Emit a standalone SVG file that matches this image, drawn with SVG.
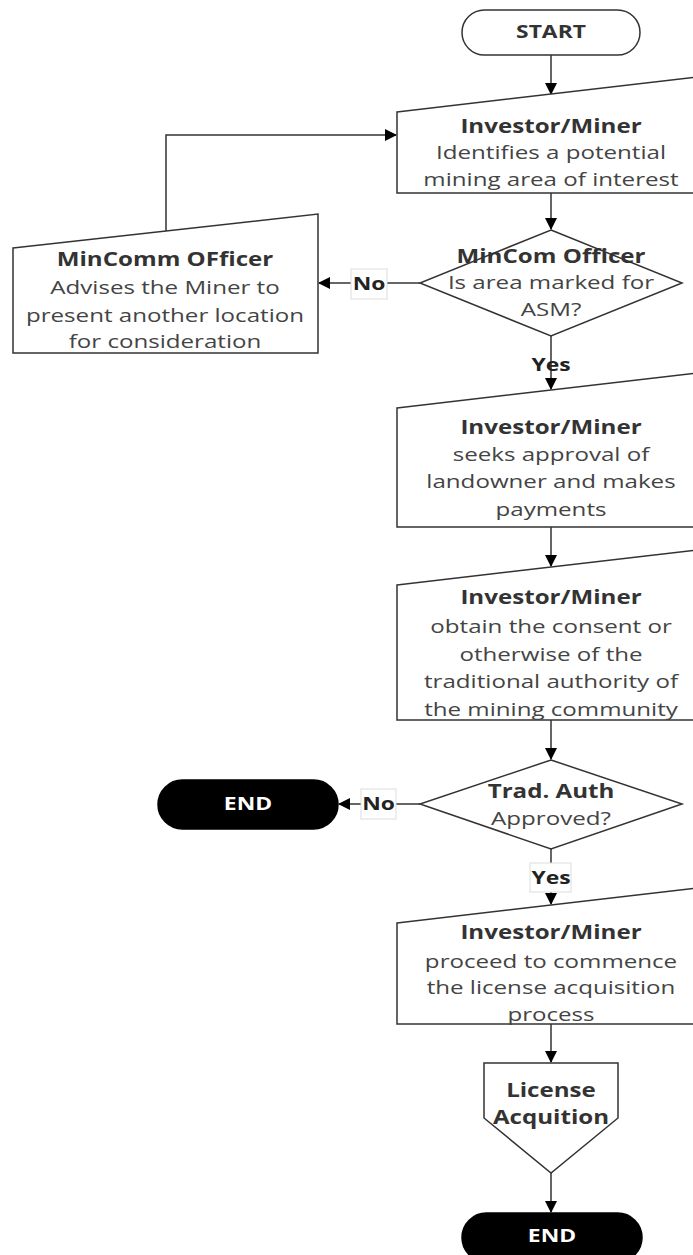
<svg xmlns="http://www.w3.org/2000/svg" width="693" height="1255" viewBox="0 0 693 1255">
<style>
.s{fill:#fff;stroke:#333;stroke-width:1.5}
.t{fill:#000;stroke:#000;stroke-width:1.5}
text{font-family:"Open Sans","DejaVu Sans",sans-serif;font-size:19px;fill:#444;text-anchor:middle}
.b{font-weight:bold;fill:#333}
.w{font-weight:bold;fill:#fff;font-size:18px}
.l{font-weight:bold;fill:#222;font-size:18px}
.c{fill:none;stroke:#333;stroke-width:1.5}
.lb{fill:#fff;stroke:#ddd;stroke-width:1}
</style>
<defs>
<marker id="a" markerUnits="userSpaceOnUse" markerWidth="12" markerHeight="12" viewBox="0 0 12 12" refX="11" refY="6" orient="auto">
<path d="M0,0 L12,6 L0,12 Z" fill="#000"/>
</marker>
</defs>
<g id="connectors">
<path class="c" d="M551,55 V94" marker-end="url(#a)"/>
<path class="c" d="M551,193 V229" marker-end="url(#a)"/>
<path class="c" d="M420,283 H319" marker-end="url(#a)"/>
<path class="c" d="M166,231 V135 H396" marker-end="url(#a)"/>
<path class="c" d="M551,336 V389" marker-end="url(#a)"/>
<path class="c" d="M551,527 V566" marker-end="url(#a)"/>
<path class="c" d="M551,720 V759" marker-end="url(#a)"/>
<path class="c" d="M420,804 H339" marker-end="url(#a)"/>
<path class="c" d="M551,849 V904" marker-end="url(#a)"/>
<path class="c" d="M551,1024 V1062" marker-end="url(#a)"/>
<path class="c" d="M551,1173 V1212" marker-end="url(#a)"/>
<rect class="lb" x="351" y="269" width="36" height="30"/>
<g transform="translate(369,0) scale(1.27,1)"><text class="l" x="0" y="290">No</text></g>
<g transform="translate(551,0) scale(1.27,1)"><text class="l" x="0" y="371">Yes</text></g>
<rect class="lb" x="361" y="789" width="35" height="30"/>
<g transform="translate(378.5,0) scale(1.27,1)"><text class="l" x="0" y="810">No</text></g>
<rect class="lb" x="530" y="863" width="41" height="29"/>
<g transform="translate(551,0) scale(1.27,1)"><text class="l" x="0" y="884">Yes</text></g>
</g>
<g id="start">
<rect class="s" x="462" y="10" width="178" height="45" rx="22.5"/>
<g transform="translate(551,0) scale(1.27,1)"><text class="b" x="0" y="38.5" style="font-size:18px">START</text></g>
</g>
<g id="identify">
<polygon class="s" points="397,112 705,76 705,193 397,193"/>
<g transform="translate(551,0) scale(1.27,1)">
<text class="b" x="0" y="133">Investor/Miner</text>
<text x="0" y="159">Identifies a potential</text>
<text x="0" y="186">mining area of interest</text>
</g>
</g>
<g id="decision1">
<polygon class="s" points="551,230 682,283 551,336 420,283"/>
<g transform="translate(551,0) scale(1.27,1)">
<text class="b" x="0" y="263">MinCom Officer</text>
<text x="0" y="289">Is area marked for</text>
<text x="0" y="316">ASM?</text>
</g>
</g>
<g id="advise">
<polygon class="s" points="13,248 318,214 318,353 13,353"/>
<g transform="translate(165,0) scale(1.27,1)">
<text class="b" x="0" y="266">MinComm OFficer</text>
<text x="0" y="294">Advises the Miner to</text>
<text x="0" y="322">present another location</text>
<text x="0" y="348">for consideration</text>
</g>
</g>
<g id="landowner">
<polygon class="s" points="397,408 705,372 705,527 397,527"/>
<g transform="translate(551,0) scale(1.27,1)">
<text class="b" x="0" y="434">Investor/Miner</text>
<text x="0" y="461">seeks approval of</text>
<text x="0" y="488">landowner and makes</text>
<text x="0" y="516">payments</text>
</g>
</g>
<g id="consent">
<polygon class="s" points="397,585 705,549 705,720 397,720"/>
<g transform="translate(551,0) scale(1.27,1)">
<text class="b" x="0" y="604">Investor/Miner</text>
<text x="0" y="633">obtain the consent or</text>
<text x="0" y="661">otherwise of the</text>
<text x="0" y="688">traditional authority of</text>
<text x="0" y="716">the mining community</text>
</g>
</g>
<g id="decision2">
<polygon class="s" points="551,760 682,804 551,849 420,804"/>
<g transform="translate(551,0) scale(1.27,1)">
<text class="b" x="0" y="798">Trad. Auth</text>
<text x="0" y="825">Approved?</text>
</g>
</g>
<g id="end1">
<rect class="t" x="158" y="780" width="180" height="49" rx="24.5"/>
<g transform="translate(248,0) scale(1.27,1)"><text class="w" x="0" y="810">END</text></g>
</g>
<g id="commence">
<polygon class="s" points="397,923 705,887 705,1024 397,1024"/>
<g transform="translate(551,0) scale(1.27,1)">
<text class="b" x="0" y="939">Investor/Miner</text>
<text x="0" y="968">proceed to commence</text>
<text x="0" y="994">the license acquisition</text>
<text x="0" y="1021">process</text>
</g>
</g>
<g id="license">
<polygon class="s" points="484,1063 618,1063 618,1118 551,1173 484,1118"/>
<g transform="translate(551,0) scale(1.27,1)">
<text class="b" x="0" y="1097">License</text>
<text class="b" x="0" y="1124">Acquition</text>
</g>
</g>
<g id="end2">
<rect class="t" x="462" y="1213" width="180" height="49" rx="24.5"/>
<g transform="translate(552,0) scale(1.27,1)"><text class="w" x="0" y="1242">END</text></g>
</g>
</svg>
